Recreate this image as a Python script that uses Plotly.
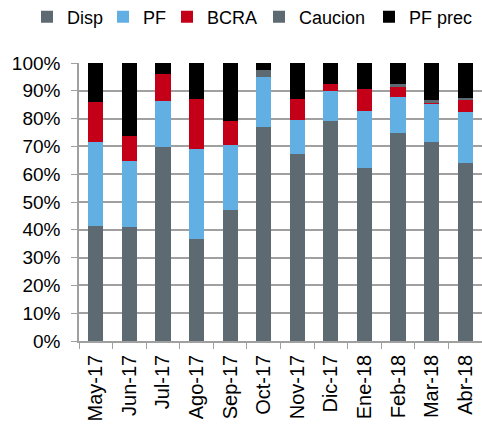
import plotly.graph_objects as go

categories = ["May-17", "Jun-17", "Jul-17", "Ago-17", "Sep-17", "Oct-17",
              "Nov-17", "Dic-17", "Ene-18", "Feb-18", "Mar-18", "Abr-18"]
disp = [41.5, 40.9, 69.9, 36.6, 47.2, 77.0, 67.4, 79.3, 62.1, 74.8, 71.5, 64.0]
pf = [30.1, 23.8, 16.4, 32.6, 23.2, 18.1, 12.1, 10.6, 20.8, 12.9, 13.6, 18.3]
bcra = [14.3, 9.0, 9.9, 17.7, 8.7, 0.0, 7.6, 2.4, 7.9, 4.0, 0.8, 4.5]
caucion = [0.0, 0.0, 0.0, 0.0, 0.0, 2.3, 0.0, 0.0, 0.0, 0.7, 0.7, 0.5]
pf_prec = [14.1, 26.3, 3.8, 13.1, 20.9, 2.6, 12.9, 7.7, 9.2, 7.6, 13.4, 12.7]

series = [
    ("Disp", disp, "#5E6A71"),
    ("PF", pf, "#62B0E3"),
    ("BCRA", bcra, "#C40018"),
    ("Caucion", caucion, "#5E6A71"),
    ("PF prec", pf_prec, "#000000"),
]
# left edge (px) of each legend entry's text in the reference
legend_text_x = [68, 144, 208, 300, 410]

FONT = "Arial, Liberation Sans, sans-serif"
W, H = 482, 427

fig = go.Figure()
legend_layouts = {}
for i, (name, vals, color) in enumerate(series):
    key = "legend" if i == 0 else f"legend{i + 1}"
    fig.add_trace(go.Bar(
        x=categories, y=[v / 100 for v in vals], name=name,
        marker=dict(color=color, line=dict(width=0)),
        legend=key, showlegend=True,
    ))
    legend_layouts[key] = dict(
        orientation="h", xref="container", yref="container",
        x=(legend_text_x[i] - 41) / W, y=1 - 17 / H,
        xanchor="left", yanchor="middle", visible=True,
        font=dict(family=FONT, size=18), bgcolor="rgba(0,0,0,0)",
    )

fig.update_layout(
    width=W, height=H, showlegend=True,
    barmode="stack", bargap=0.55,
    plot_bgcolor="white", paper_bgcolor="white",
    margin=dict(l=79, r=0, t=63, b=86, autoexpand=False),
    font=dict(family=FONT, size=18, color="#000000"),
    xaxis=dict(
        range=[-0.5, 11.5], tickangle=-90, tickson="boundaries",
        ticks="outside", ticklen=6, tickcolor="#A0A0A0",
        showline=True, linecolor="#A0A0A0", linewidth=1.5,
        showgrid=False, tickfont=dict(family=FONT, size=20),
        ticklabelstandoff=4,
    ),
    yaxis=dict(
        range=[0, 1], tickformat=".0%", dtick=0.1,
        ticks="outside", ticklen=6, tickcolor="#A0A0A0",
        showline=True, linecolor="#A0A0A0", linewidth=1.5,
        showgrid=True, gridcolor="#A0A0A0", gridwidth=1.5,
        zeroline=False, ticklabelstandoff=7,
        tickfont=dict(family=FONT, size=19),
    ),
    **legend_layouts,
)

fig.write_html("out.html", config={"displayModeBar": False},
               post_script="document.body.style.margin='0';")
